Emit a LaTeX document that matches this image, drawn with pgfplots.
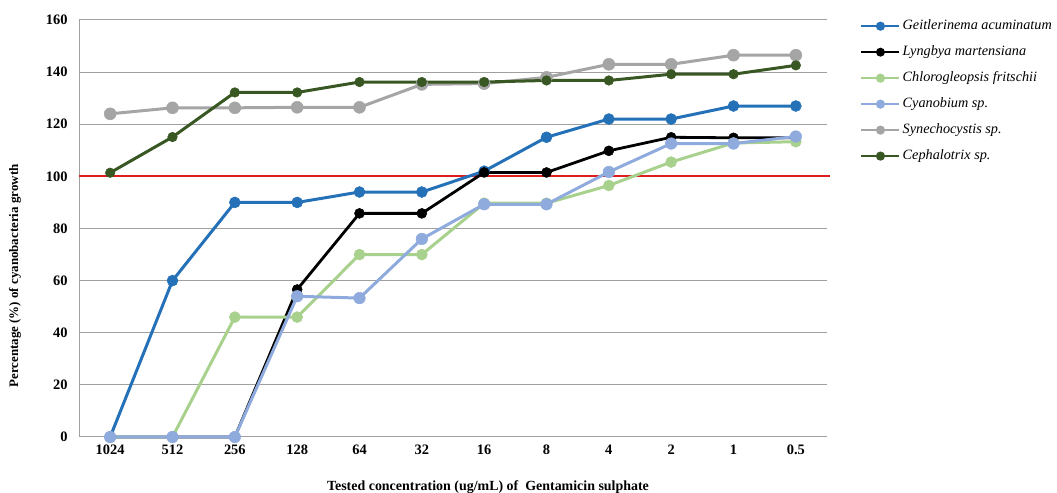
\documentclass[border=0pt]{standalone}
\usepackage{fontspec}
\setmainfont{Liberation Serif}
\usepackage{pgfplots}
\pgfplotsset{compat=1.18}
\definecolor{cBlue}{RGB}{36,113,184}
\definecolor{cLGreen}{RGB}{169,209,142}
\definecolor{cLBlue}{RGB}{143,170,220}
\definecolor{cGray}{RGB}{165,165,165}
\definecolor{cDGreen}{RGB}{56,87,35}
\definecolor{cRed}{RGB}{222,30,30}
\definecolor{cGrid}{RGB}{160,160,160}
\begin{document}
\begin{tikzpicture}
\path[use as bounding box] (0,0) rectangle (1057bp,493bp);
\begin{axis}[
  at={(79bp,56bp)}, anchor=south west,
  scale only axis, width=748bp, height=417bp,
  xmin=-0.5, xmax=11.5, ymin=0, ymax=160,
  xtick={0,...,11},
  xticklabels={1024,512,256,128,64,32,16,8,4,2,1,0.5},
  ytick={0,20,...,160},
  axis x line=bottom, axis y line=left,
  axis line style={cGrid, line width=1bp, -},
  major tick length=0pt,
  ymajorgrids, grid style={cGrid, line width=1bp},
  tick label style={font=\bfseries\fontsize{14.5}{16}\selectfont},
  /pgf/number format/assume math mode=true,
  xticklabel style={yshift=-4bp},
  yticklabel style={xshift=-8bp},
  clip=false,
  legend style={at={(1.0,1.0)}, anchor=north west, xshift=33bp, yshift=2.5bp,
    draw=none, fill=none, font=\itshape\fontsize{14.3}{16}\selectfont,
    row sep=9bp, inner sep=0pt,
    nodes={text height=10bp, text depth=3bp}},
  legend cell align=left,
  legend image code/.code={
    \draw[#1, line width=2.5bp] (0bp,0bp) -- (38bp,0bp);
    \fill[#1] (19bp,0bp) circle (3bp);
  },
  every axis plot/.append style={line width=3bp, mark=*, mark options={solid, line width=0.5bp}},
]
\addplot[cRed, line width=1.8bp, mark=none, forget plot] coordinates {(-0.5,100) (11.55,100)};
\addplot[cBlue, mark size=5.5bp] coordinates {
(0,0) (1,60) (2,90) (3,90) (4,94) (5,94) (6,102) (7,115) (8,122) (9,122) (10,127) (11,127)};
\addlegendentry{Geitlerinema acuminatum}
\addplot[black, line width=2.8bp, mark size=5bp] coordinates {
(0,0) (1,0) (2,0) (3,56.6) (4,85.8) (5,85.8) (6,101.5) (7,101.5) (8,109.8) (9,115) (10,114.8) (11,114.8)};
\addlegendentry{Lyngbya martensiana}
\addplot[cLGreen, mark size=5.5bp] coordinates {
(0,0) (1,0) (2,46) (3,46) (4,70) (5,70) (6,89.7) (7,89.7) (8,96.5) (9,105.5) (10,112.8) (11,113.3)};
\addlegendentry{Chlorogleopsis fritschii}
\addplot[cLBlue, mark size=5.8bp] coordinates {
(0,0) (1,0) (2,0) (3,54) (4,53.3) (5,76) (6,89.3) (7,89.3) (8,101.7) (9,112.6) (10,112.6) (11,115.3)};
\addlegendentry{Cyanobium sp.}
\addplot[cGray, mark size=6bp] coordinates {
(0,124) (1,126.3) (2,126.3) (3,126.5) (4,126.5) (5,135.3) (6,135.6) (7,138) (8,143) (9,143) (10,146.5) (11,146.5)};
\addlegendentry{Synechocystis sp.}
\addplot[cDGreen, mark size=4.8bp] coordinates {
(0,101.4) (1,115.1) (2,132.2) (3,132.2) (4,136.2) (5,136.2) (6,136.2) (7,136.8) (8,136.8) (9,139.2) (10,139.2) (11,142.6)};
\addlegendentry{Cephalotrix sp.}
\end{axis}
\node[rotate=90, font=\bfseries\fontsize{13}{15}\selectfont] at (15bp,217bp) {Percentage (\%) of cyanobacteria growth};
\node[font=\bfseries\fontsize{14}{16}\selectfont] at (488bp,6bp) {Tested concentration (ug/mL) of\ \ Gentamicin sulphate};
\end{tikzpicture}
\end{document}
